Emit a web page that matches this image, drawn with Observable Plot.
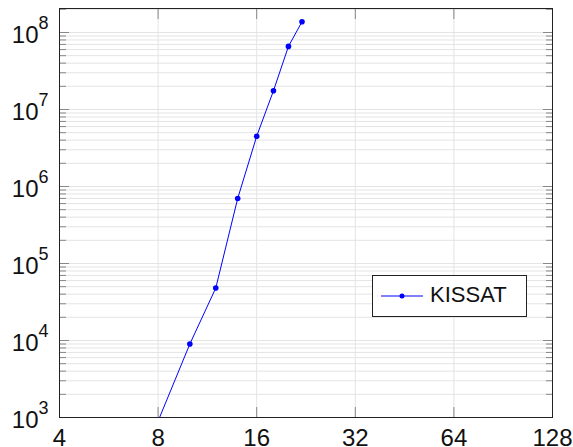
<!DOCTYPE html>
<html><head><meta charset="utf-8">
<script src="https://cdn.jsdelivr.net/npm/d3@7"></script>
<script src="https://cdn.jsdelivr.net/npm/@observablehq/plot@0.6"></script>
<style>body{margin:0;background:#fff}#chart{position:relative;width:573px;height:447px}</style>
</head><body><div id="chart"></div>
<script>
// Data
const sizes = [8, 10, 12, 14, 16, 18, 20, 22];
const kissat = [900, 9000, 48000, 700000, 4.5e6, 1.75e7, 6.6e7, 1.38e8];
const seriesName = "KISSAT";
const xTicks = [4, 8, 16, 32, 64, 128];
const yMajor = [1e3, 1e4, 1e5, 1e6, 1e7, 1e8];
const yMax = 2.05e8;
const yMinor = [];
for (const d of yMajor) for (let m = 2; m <= 9; m++) if (m * d <= yMax) yMinor.push(m * d);

const data = sizes.map((s, i) => ({size: s, time: kissat[i]}));
const inner = xTicks.slice(1, -1);
const blank = () => "";

const chart = Plot.plot({
  width: 573, height: 447,
  marginLeft: 59, marginRight: 21, marginTop: 8, marginBottom: 30,
  style: {fontFamily: "'Liberation Sans', Arial, sans-serif", fontSize: "24px", color: "#111", background: "#fff"},
  x: {type: "log", base: 2, domain: [4, 128], label: null},
  y: {type: "log", domain: [1e3, yMax], label: null},
  marks: [
    Plot.ruleY(yMinor.concat(yMajor), {stroke: "#e4e4e4"}),
    Plot.ruleX(inner, {stroke: "#e4e4e4"}),
    Plot.axisY(yMinor, {anchor: "left", tickSize: -7, tickFormat: blank, stroke: "#888", label: null}),
    Plot.axisY(yMinor, {anchor: "right", tickSize: -7, tickFormat: blank, stroke: "#888", label: null}),
    Plot.axisY(yMajor, {anchor: "left", tickSize: -10, tickFormat: blank, stroke: "#888", label: null}),
    Plot.axisY(yMajor, {anchor: "right", tickSize: -10, tickFormat: blank, stroke: "#888", label: null}),
    Plot.axisX(inner, {anchor: "bottom", tickSize: -10, tickFormat: blank, stroke: "#888", label: null}),
    Plot.axisX(inner, {anchor: "top", tickSize: -10, tickFormat: blank, stroke: "#888", label: null}),
    Plot.axisY(yMajor, {anchor: "left", tickSize: 0, tickPadding: 11, dy: 3,
      tickFormat: d => `10^${Math.round(Math.log10(d))}`, label: null}),
    Plot.axisX(xTicks, {anchor: "bottom", tickSize: 0, tickPadding: 11, tickFormat: d => String(d), label: null}),
    Plot.line(data, {x: "size", y: "time", stroke: "#0000ff", strokeWidth: 1, clip: true}),
    Plot.dot(data, {x: "size", y: "time", fill: "#0000ff", r: 2.8, clip: true}),
    Plot.frame({stroke: "#222"})
  ]
});

// Superscript exponents on the y tick labels
d3.select(chart).selectAll('g[aria-label="y-axis tick label"] text').each(function () {
  const t = this.textContent;
  if (!t.includes("^")) return;
  const [b, e] = t.split("^");
  const s = d3.select(this);
  s.text(null);
  s.append("tspan").text(b);
  s.append("tspan").attr("font-size", "18px").attr("dy", "-14").text(e);
});

// Legend inside the plot area
const svg = d3.select(chart);
const lg = svg.append("g").attr("aria-label", "legend");
lg.append("rect").attr("x", 372.5).attr("y", 275.5).attr("width", 154).attr("height", 41)
  .attr("fill", "#fff").attr("stroke", "#222");
lg.append("line").attr("x1", 381).attr("x2", 423).attr("y1", 296).attr("y2", 296)
  .attr("stroke", "#0000ff").attr("stroke-width", 1);
lg.append("circle").attr("cx", 402).attr("cy", 296).attr("r", 2.5).attr("fill", "#0000ff");
lg.append("text").attr("x", 430).attr("y", 301.7).attr("font-size", "22px").attr("fill", "#111")
  .attr("text-anchor", "start").text(seriesName);

document.getElementById("chart").appendChild(chart);
</script>
</body></html>
